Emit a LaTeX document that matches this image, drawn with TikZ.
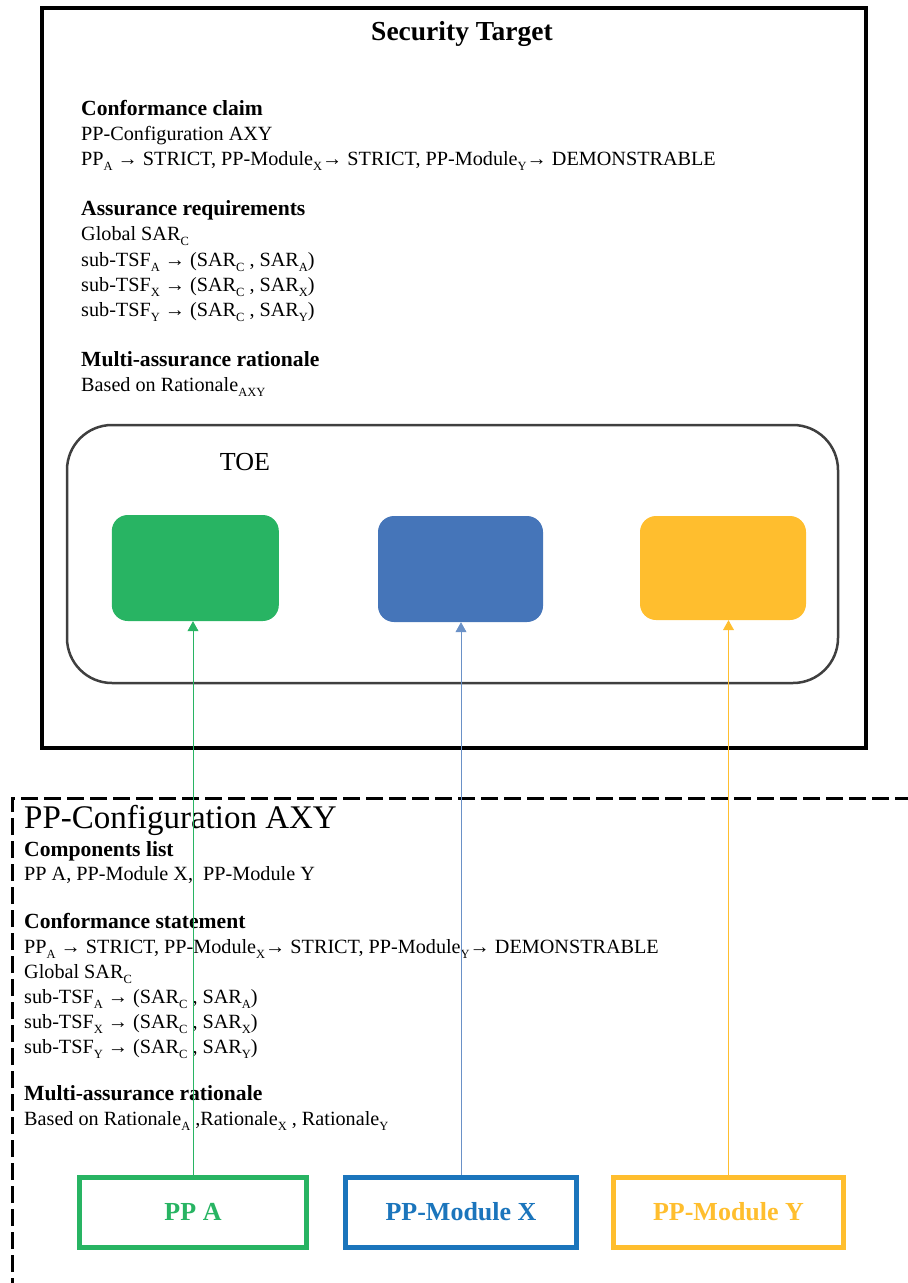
\documentclass[tikz,border=0pt]{standalone}
\usepackage{fontspec}
\setmainfont{Liberation Serif}
\usetikzlibrary{arrows.meta}
\definecolor{ggreen}{HTML}{28B463}
\definecolor{gblue}{HTML}{4575B9}
\definecolor{gyellow}{HTML}{FFBE2E}
\definecolor{bblue}{HTML}{1B75BC}
\definecolor{toegray}{HTML}{3F3F3F}
\newcommand{\sbx}[1]{\raisebox{-0.28em}{\fontsize{12.5}{12.5}\selectfont #1}}
\newcommand{\arw}{→}
\tikzset{
  body/.style={anchor=base west, inner sep=0pt, font=\fontsize{20.2}{24}\selectfont},
  bodyb/.style={body, font=\fontsize{21.6}{24}\selectfont\bfseries},
  toecomp/.style={rounded corners=16pt, minimum height=106pt, inner sep=0pt},
  ppbox/.style={draw, line width=5pt, minimum width=229pt, minimum height=70pt, inner sep=0pt, font=\fontsize{26}{26}\selectfont\bfseries},
  conn/.style={line width=0.8pt, -{Triangle[width=11pt,length=10pt]}},
}
\begin{document}
\begin{tikzpicture}[x=1pt,y=-1pt]
\useasboundingbox (0,0) rectangle (908,1283);
% Security Target box
\node[draw, line width=4pt, minimum width=824pt, minimum height=740pt, inner sep=0pt] (st) at (454,378) {};
\node[inner sep=0pt, font=\fontsize{27.5}{27.5}\selectfont\bfseries, anchor=base] (sttitle) at (462,40) {Security Target};
\node[bodyb] (s1) at (81,115) {Conformance claim};
\node[body] (s2) at (81,140) {PP-Configuration AXY};
\node[body] (s3) at (81,165) {PP\sbx{A} \arw{} STRICT, PP-Module\sbx{X}\arw{} STRICT, PP-Module\sbx{Y}\arw{} DEMONSTRABLE};
\node[bodyb] (s4) at (81,215) {Assurance requirements};
\node[body] (s5) at (81,240) {Global SAR\sbx{C}};
\node[body] (s6) at (81,266) {sub-TSF\sbx{A} \arw{} (SAR\sbx{C} , SAR\sbx{A})};
\node[body] (s7) at (81,291) {sub-TSF\sbx{X} \arw{} (SAR\sbx{C} , SAR\sbx{X})};
\node[body] (s8) at (81,316) {sub-TSF\sbx{Y} \arw{} (SAR\sbx{C} , SAR\sbx{Y})};
\node[bodyb] (s9) at (81,366) {Multi-assurance rationale};
\node[body] (s10) at (81,391) {Based on Rationale\sbx{AXY}};
% TOE
\node[draw=toegray, line width=2.5pt, rounded corners=45pt, minimum width=771pt, minimum height=258pt, inner sep=0pt] (toe) at (452.5,554) {};
\node[inner sep=0pt, font=\fontsize{26}{26}\selectfont, anchor=base] (toelabel) at (245,470) {TOE};
\node[toecomp, fill=ggreen, minimum width=167pt] (ga) at (195.3,568) {};
\node[toecomp, fill=gblue, minimum width=165pt] (gx) at (460.5,569) {};
\node[toecomp, fill=gyellow, minimum width=166pt, minimum height=104pt] (gy) at (723,568) {};
% PP-Configuration dashed frame
\begin{scope}
\clip (0,0) rectangle (908,1283);
\coordinate (dtl) at (12,798);
\coordinate (dbl) at (12,1295);
\coordinate (dtr) at (920,798);
\draw[line width=3pt, dash pattern=on 17pt off 6pt] (dbl) -- (dtl) -- (dtr);
\end{scope}
\node[inner sep=0pt, anchor=base west, font=\fontsize{33}{33}\selectfont] (pctitle) at (24,828) {PP-Configuration AXY};
\node[bodyb] (p1) at (24,856) {Components list};
\node[body] (p2) at (24,880) {PP A, PP-Module X,\ \ PP-Module Y};
\node[bodyb] (p3) at (24,928) {Conformance statement};
\node[body] (p4) at (24,953) {PP\sbx{A} \arw{} STRICT, PP-Module\sbx{X}\arw{} STRICT, PP-Module\sbx{Y}\arw{} DEMONSTRABLE};
\node[body] (p5) at (24,978) {Global SAR\sbx{C}};
\node[body] (p6) at (24,1003) {sub-TSF\sbx{A} \arw{} (SAR\sbx{C} , SAR\sbx{A})};
\node[body] (p7) at (24,1028) {sub-TSF\sbx{X} \arw{} (SAR\sbx{C} , SAR\sbx{X})};
\node[body] (p8) at (24,1053) {sub-TSF\sbx{Y} \arw{} (SAR\sbx{C} , SAR\sbx{Y})};
\node[bodyb] (p9) at (24,1100) {Multi-assurance rationale};
\node[body] (p10) at (24,1125) {Based on Rationale\sbx{A}\ ,Rationale\sbx{X}\ , Rationale\sbx{Y}};
% bottom boxes
\node[ppbox, draw=ggreen, text=ggreen, minimum width=227pt] (ppa) at (193,1212) {PP A};
\node[ppbox, draw=bblue, text=bblue, minimum width=231pt] (ppx) at (461,1212) {PP-Module X};
\node[ppbox, draw=gyellow, text=gyellow, minimum width=230pt] (ppy) at (728.5,1212) {PP-Module Y};
% connectors
\draw[conn, ggreen] (ppa.north) -- (ppa.north |- ga.south);
\draw[conn, gblue!80] (ppx.north) -- (ppx.north |- gx.south);
\draw[conn, gyellow] (ppy.north) -- (ppy.north |- gy.south);
\end{tikzpicture}
\end{document}
